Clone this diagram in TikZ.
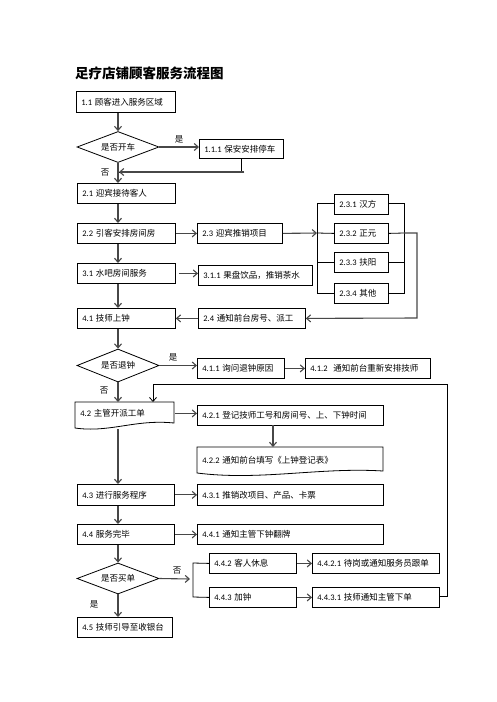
\documentclass[tikz,border=0pt]{standalone}
\usepackage{fontspec}
\setmainfont{Carlito}
\newfontfamily\cjk{Noto Sans CJK SC}
\usetikzlibrary{arrows.meta,shapes.geometric}
\newcommand\zh[1]{{\cjk #1}}
\begin{document}
\begin{tikzpicture}[x=1pt,y=-1pt,
  txt/.style={font=\fontsize{8.5}{10}\selectfont},
  box/.style={txt, draw=black, line width=0.8pt, rectangle, inner xsep=5pt, inner ysep=0pt, align=left, anchor=north west},
  dia/.style={txt, draw=black, line width=0.8pt, diamond, aspect=2.6, inner sep=0pt, minimum width=82pt, minimum height=31pt},
  arr/.style={-{Straight Barb[length=4pt,width=7pt]}, line width=1.1pt, draw=black!72},
  tarr/.style={-{Straight Barb[length=4pt,width=7pt]}, line width=0.8pt, draw=black},
  ln/.style={line width=0.8pt, draw=black},
  lab/.style={txt, inner sep=0pt}]
\useasboundingbox[fill=white] (0,0) rectangle (496,702);

\node[anchor=west, inner sep=0pt, font=\cjk\bfseries\fontsize{13.5}{15}\selectfont] (title) at (75,73) {足疗店铺顾客服务流程图};

% boxes
\node[box, text width=89pt, minimum height=21pt] (n11) at (76,91) {1.1 \zh{顾客进入服务区域}};
\node[dia] (d1) at (118,147) {\zh{是否开车}};
\node[box, text width=74pt, minimum height=19pt] (n111) at (199,139) {1.1.1 \zh{保安安排停车}};
\node[box, text width=88pt, minimum height=20pt] (n21) at (77,183) {2.1 \zh{迎宾接待客人}};
\node[box, text width=88pt, minimum height=20pt] (n22) at (77,223) {2.2 \zh{引客安排房间房}};
\node[box, text width=75pt, minimum height=20pt] (n23) at (197,223) {2.3 \zh{迎宾推销项目}};
\node[box, text width=44pt, minimum height=20pt] (n231) at (334,194) {2.3.1 \zh{汉方}};
\node[box, text width=44pt, minimum height=20pt] (n232) at (334,223) {2.3.2 \zh{正元}};
\node[box, text width=44pt, minimum height=20pt] (n233) at (334,252) {2.3.3 \zh{扶阳}};
\node[box, text width=44pt, minimum height=20pt] (n234) at (334,283) {2.3.4 \zh{其他}};
\node[box, text width=88pt, minimum height=20pt] (n31) at (77,263) {3.1 \zh{水吧房间服务}};
\node[box, text width=104pt, minimum height=20pt] (n311) at (198,265) {3.1.1 \zh{果盘饮品，推销茶水}};
\node[box, text width=88pt, minimum height=20pt] (n41) at (77,308) {4.1 \zh{技师上钟}};
\node[box, text width=97pt, minimum height=20pt] (n24) at (198,308) {2.4 \zh{通知前台房号、派工}};
\node[dia, minimum height=33pt] (d2) at (118,365.5) {\zh{是否退钟}};
\node[box, text width=77pt, minimum height=20pt] (n411) at (197,358) {4.1.1 \zh{询问退钟原因}};
\node[box, text width=115pt, minimum height=20pt] (n412) at (305,358) {4.1.2 \ \zh{通知前台重新安排技师}};
% document shapes
\draw[ln] (75,402) -- (174,402) -- (174,423) .. controls (135,419) and (110,433) .. (75,428) -- cycle;
\node[box, draw=none, text width=89pt, minimum height=22pt] (n42) at (75,402) {4.2 \zh{主管开派工单}};
\node[box, text width=176pt, minimum height=20pt] (n421) at (197,405) {4.2.1 \zh{登记技师工号和房间号、上、下钟时间}};
\draw[ln] (197,447) -- (383,447) -- (383,471) .. controls (320,467) and (260,481) .. (197,473) -- cycle;
\node[box, draw=none, text width=176pt, minimum height=26pt] (n422) at (197,447) {4.2.2 \zh{通知前台填写《上钟登记表》}};
\node[box, text width=87pt, minimum height=21pt] (n43) at (77,484) {4.3 \zh{进行服务程序}};
\node[box, text width=176pt, minimum height=21pt] (n431) at (197,484) {4.3.1 \zh{推销改项目、产品、卡票}};
\node[box, text width=87pt, minimum height=20pt] (n44) at (77,524) {4.4 \zh{服务完毕}};
\node[box, text width=176pt, minimum height=20pt] (n441) at (197,524) {4.4.1 \zh{通知主管下钟翻牌}};
\node[dia] (d3) at (118,578.5) {\zh{是否买单}};
\node[box, text width=77pt, minimum height=20pt] (n442) at (209,553) {4.4.2 \zh{客人休息}};
\node[box, text width=117pt, minimum height=20pt] (n4421) at (312,553) {4.4.2.1 \zh{待岗或通知服务员跟单}};
\node[box, text width=77pt, minimum height=20pt] (n443) at (209,587) {4.4.3 \zh{加钟}};
\node[box, text width=117pt, minimum height=20pt] (n4431) at (312,587) {4.4.3.1 \zh{技师通知主管下单}};
\node[box, text width=85pt, minimum height=20pt] (n45) at (77,617) {4.5 \zh{技师引导至收银台}};

% labels
\node[lab] (l1) at (179,139) {\zh{是}};
\node[lab] (l2) at (105,173) {\zh{否}};
\node[lab] (l3) at (173,357) {\zh{是}};
\node[lab] (l4) at (104,391) {\zh{否}};
\node[lab] (l5) at (177,571) {\zh{否}};
\node[lab] (l6) at (94,604) {\zh{是}};

% coordinates
\coordinate (j1) at (119,172);
\coordinate (b1) at (317,233);
\coordinate (b1t) at (317,203.5);
\coordinate (b1b) at (317,293);
\coordinate (b2t) at (404,203.5);
\coordinate (b2b) at (404,293);
\coordinate (b2m) at (404,233);
\coordinate (b3) at (417,233);
\coordinate (b4) at (417,318);
\coordinate (f1) at (447,596);
\coordinate (f2) at (447,384);
\coordinate (f3) at (153,384);
\coordinate (q1) at (190,579);
\coordinate (q2) at (193,563);
\coordinate (q3) at (193,597);

% connectors
\draw[arr] (d1.north |- n11.south) -- (d1.north);
\draw[arr] (d1.east) -- (d1.east -| n111.west);
\draw[ln] (n111.south) |- (j1);
\draw[arr] ([xshift=3pt]n111.south |- j1) -- (j1);
\draw[arr] (d1.south) -- (d1.south |- n21.north);
\draw[arr] (d1.south |- n21.south) -- (d1.south |- n22.north);
\draw[arr] (n22.east) -- (n23.west);
\draw[arr] (d1.south |- n22.south) -- (d1.south |- n31.north);
\draw[arr] (n23.east) -- (b1);
\draw[ln] (b1t) -- (b1b);
\draw[ln] (b1t) -- (b1t -| n231.west);
\draw[ln] (b1) -- (n232.west);
\draw[ln] (b1 |- n233.west) -- (n233.west);
\draw[ln] (b1b) -- (b1b -| n234.west);
\draw[ln] (b2t -| n231.east) -- (b2t) -- (b2b) -- (b2b -| n234.east);
\draw[ln] (n232.east) -- (b2m);
\draw[ln] (n233.east) -- (n233.east -| b2m);
\draw[arr] (b2m) -- (b3) -- (b4) -- (n24.east);
\draw[arr] ([xshift=3pt]n31.east) -- (n31.east -| n311.west);
\draw[arr] (d1.south |- n31.south) -- (d1.south |- n41.north);
\draw[arr] (n24.west) -- (n41.east);
\draw[arr] (d2.north |- n41.south) -- (d2.north);
\draw[arr] (d2.east) -- (d2.east -| n411.west);
\draw[arr] (n411.east) -- (n412.west);
\draw[arr] (d2.south) -- (d2.south |- n42.north);
\draw[ln] (n4431.east |- f1) -- (f1) -- (f2) -- (f3);
\draw[tarr] (f3) -- (f3 |- n42.north);
\draw[arr] (n42.east) -- (n42.east -| n421.west);
\draw[arr] (273,425) -- (273,447);
\draw[arr] (118,429) -- (d2.south |- n43.north);
\draw[arr] (n43.east) -- (n431.west);
\draw[arr] (d2.south |- n43.south) -- (d2.south |- n44.north);
\draw[arr] (n44.east) -- (n44.east -| n441.west);
\draw[arr] (d3.north |- n44.south) -- (d3.north);
\draw[arr] (d3.east) -- (q1);
\draw[ln] (n442.west) -- (q2) -- (q3) -- (n443.west);
\draw[arr] (n442.east) -- (n4421.west);
\draw[arr] (n443.east) -- (n4431.west);
\draw[arr] (d3.south) -- (d3.south |- n45.north);
\end{tikzpicture}
\end{document}
